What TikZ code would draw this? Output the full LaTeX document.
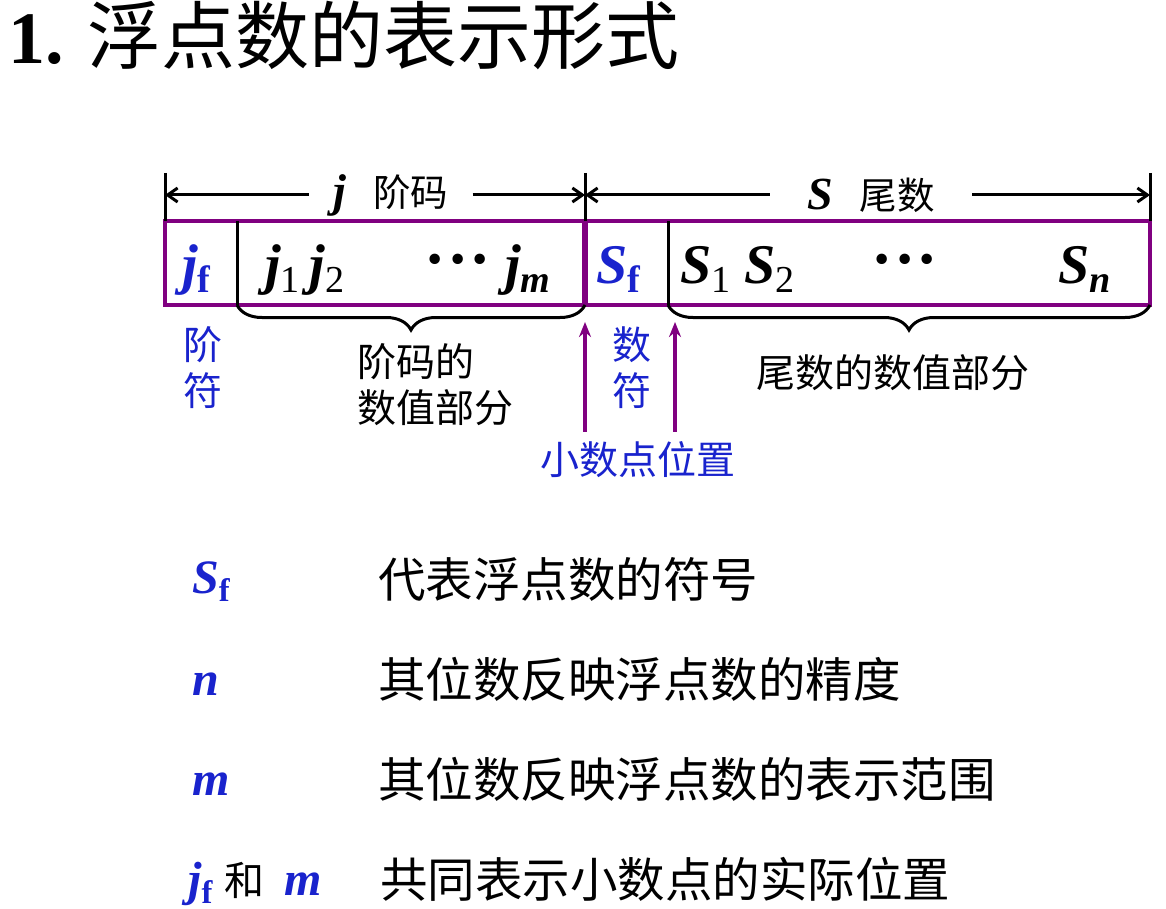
\documentclass[tikz,border=0pt]{standalone}
\usepackage{fontspec}
\usepackage{graphicx}
\setmainfont{Liberation Serif}
\newfontfamily\cjk{Noto Sans CJK SC}
\usetikzlibrary{arrows.meta,positioning,calc,decorations.pathreplacing}
\definecolor{boxpurple}{RGB}{128,0,128}
\definecolor{symblue}{RGB}{25,35,205}
\newcommand{\lsub}[1]{\raisebox{-0.17em}{\scalebox{0.68}{#1}}}
\newcommand{\middots}{{\fontsize{64pt}{64pt}\selectfont\bfseries\upshape ·\hspace{1pt}·\hspace{1pt}·}}
\tikzset{
    cell-line/.style={
        draw=boxpurple,
        line width=3.5pt
    },
    sep-line/.style={
        draw=black,
        line width=3pt
    },
    dim-line/.style={
        draw=black,
        line width=3pt,
        >={Straight Barb[length=10pt,width=14pt]}
    },
    brace-line/.style={
        draw=black,
        line width=3pt,
        decorate,
        decoration={brace,amplitude=25pt,mirror}
    },
    up-arrow/.style={
        draw=boxpurple,
        line width=3.5pt,
        -{Stealth[length=15pt,width=12pt]}
    },
    box-sym/.style={
        anchor=base west,
        inner sep=0pt,
        font=\fontsize{56pt}{56pt}\selectfont\bfseries\itshape
    },
    list-sym/.style={
        anchor=base west,
        inner sep=0pt,
        text=symblue,
        font=\fontsize{48pt}{48pt}\selectfont\bfseries\itshape
    },
    cjk-label/.style={
        inner sep=0pt,
        align=left,
        font=\cjk\fontsize{39pt}{46pt}\selectfont
    },
    list-text/.style={
        anchor=west,
        inner sep=0pt,
        font=\cjk\fontsize{47.5pt}{47.5pt}\selectfont
    },
}
\begin{document}
\begin{tikzpicture}[x=1pt,y=-1pt]
    \useasboundingbox (0,0) rectangle (1166,909);
    % title
    \node[anchor=base west,inner sep=0pt,font=\fontsize{74pt}{74pt}\selectfont] (Title) at (8,64) {\textbf{1.}\hspace{24pt}{\cjk 浮点数的表示形式}};
    % the word
    \draw[cell-line] (165,221) rectangle (1150,305);
    \draw[sep-line] (237,221) -- (237,305);
    \draw[sep-line] (668,221) -- (668,305);
    \draw[line width=6pt,boxpurple] (585,221) -- (585,305);
    \draw[brace-line] (237,305) -- (585,305);
    \draw[brace-line] (668,305) -- (1150,305);
    \draw[sep-line] (165,173) -- (165,221);
    \draw[sep-line] (585,173) -- (585,221);
    \draw[sep-line] (1150,173) -- (1150,221);
    \node[box-sym,text=symblue] (Jf) at (182,283) {j\lsub{\upshape f}};
    \node[box-sym] (J12) at (265,283) {j\lsub{\mdseries\upshape 1}\hspace{10pt}j\lsub{\mdseries\upshape 2}};
    \node[box-sym,anchor=center] (DotsJ) at (458,267) {\middots};
    \node[box-sym] (Jm) at (505,283) {j\lsub{m}};
    \node[box-sym,text=symblue] (Sf) at (596,283) {S\lsub{\upshape f}};
    \node[box-sym] (S12) at (680,283) {S\lsub{\mdseries\upshape 1}\hspace{14pt}S\lsub{\mdseries\upshape 2}};
    \node[box-sym,anchor=center] (DotsS) at (905,267) {\middots};
    \node[box-sym] (Sn) at (1058,283) {S\lsub{n}};
    % lengths above
    \coordinate (TL) at (165,195);
    \coordinate (TM) at (585,195);
    \coordinate (TR) at (1150,195);
    \node[inner xsep=24pt,inner ysep=0pt] (JLab) at (391,195) {{\fontsize{46pt}{46pt}\selectfont\bfseries\itshape j}\hspace{27pt}{\cjk\fontsize{37.5pt}{37.5pt}\selectfont 阶码}};
    \node[inner xsep=37pt,inner ysep=0pt] (SLab) at (871,195) {{\fontsize{46pt}{46pt}\selectfont\bfseries\itshape S}\hspace{27pt}{\cjk\fontsize{37.5pt}{37.5pt}\selectfont 尾数}};
    \draw[dim-line,<-] (TL) -- (JLab);
    \draw[dim-line,->] (JLab) -- (TM);
    \draw[dim-line,<-] (TM) -- (SLab);
    \draw[dim-line,->] (SLab) -- (TR);
    % notes below
    \node[cjk-label,text=symblue,align=center] (JfNote) at (203,368) {阶\\符};
    \node[cjk-label,anchor=north west] (JmNote) at (357,343) {阶码的\\数值部分};
    \node[cjk-label,text=symblue,align=center] (SfNote) at (632,368) {数\\符};
    \node[cjk-label] (SnNote) at (893,373) {尾数的数值部分};
    \node[cjk-label,text=symblue] (Point) at (638,460) {小数点位置};
    \coordinate (A1) at (585,322);
    \coordinate (A2) at (675,322);
    \draw[up-arrow,shorten <=10pt] (Point.north -| A1) -- (A1);
    \draw[up-arrow,shorten <=10pt] (Point.north -| A2) -- (A2);
    % list
    \node[list-sym] (L1) at (192,593) {S\lsub{\upshape f}};
    \node[list-text] (T1) at (378,579) {代表浮点数的符号};
    \node[list-sym] (L2) at (192,695) {n};
    \node[list-text] (T2) at (378,679) {其位数反映浮点数的精度};
    \node[list-sym] (L3) at (192,795) {m};
    \node[list-text] (T3) at (378,779) {其位数反映浮点数的表示范围};
    \node[list-sym] (L4) at (188,895) {j\lsub{\upshape f}\hspace{12pt}{\color{black}\cjk\mdseries\upshape\fontsize{40pt}{40pt}\selectfont 和}\hspace{20pt}m};
    \node[list-text] (T4) at (380,879) {共同表示小数点的实际位置};
\end{tikzpicture}
\end{document}
